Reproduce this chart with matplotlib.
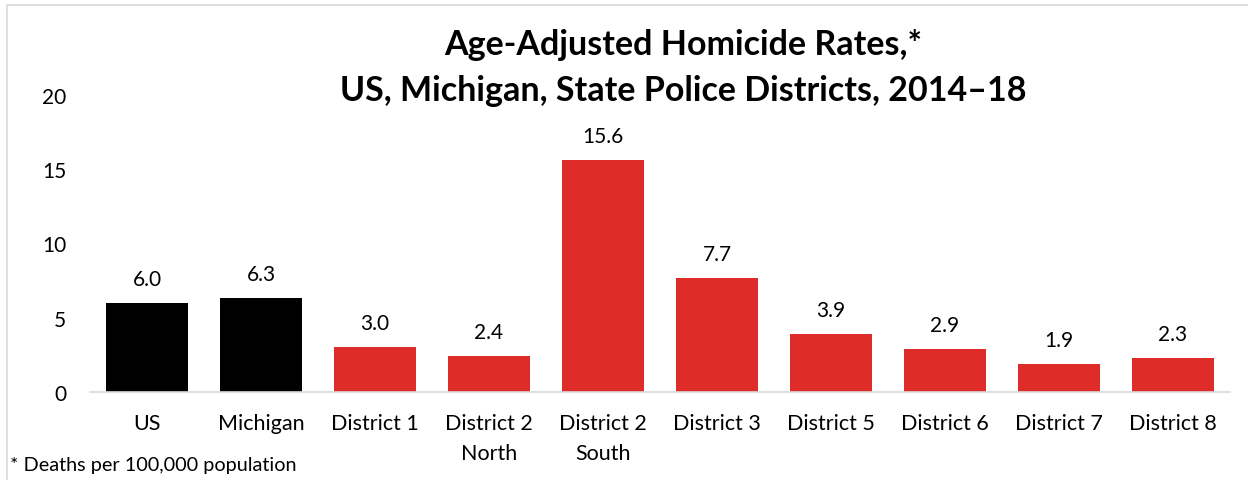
import matplotlib.pyplot as plt
from matplotlib.patches import Rectangle

plt.rcParams["font.family"] = ["Lato", "DejaVu Sans"]

categories = ["US", "Michigan", "District 1", "District 2\nNorth", "District 2\nSouth",
              "District 3", "District 5", "District 6", "District 7", "District 8"]
rates = [6.0, 6.3, 3.0, 2.4, 15.6, 7.7, 3.9, 2.9, 1.9, 2.3]
bar_colors = ["black", "black"] + ["#de2d29"] * 8
y_ticks = [0, 5, 10, 15, 20]

W, H = 1248, 481
fig = plt.figure(figsize=(W / 100, H / 100), dpi=100)

# axes placed in pixel terms: x 90..1230, y(0)=393, y(20)=96
x0, x1 = 90, 1230
y_bot, y_top = 393, 96
ax = fig.add_axes([x0 / W, 1 - y_bot / H, (x1 - x0) / W, (y_bot - y_top) / H])

pos = range(len(categories))
bars = ax.bar(pos, rates, width=0.72, color=bar_colors)
for b, v in zip(bars, rates):
    ax.text(b.get_x() + b.get_width() / 2, v + 0.95, f"{v:.1f}",
            ha="center", va="bottom", fontsize=15)

ax.set_xlim(-0.5, len(categories) - 0.5)
ax.set_ylim(0, 20)
ax.set_yticks(y_ticks)
ax.set_xticks(list(pos))
ax.set_xticklabels(categories, fontsize=15.5, linespacing=1.65)
ax.tick_params(axis="y", length=0, labelsize=15, pad=17)
ax.tick_params(axis="x", length=0, pad=15)
for s in ["top", "right", "left"]:
    ax.spines[s].set_visible(False)
ax.spines["bottom"].set_color("#d9d9d9")
ax.spines["bottom"].set_linewidth(1.2)

fig.text(683 / W, 1 - 45 / H, "Age-Adjusted Homicide Rates,*", ha="center", va="center",
         fontsize=24.5, fontweight="bold")
fig.text(683 / W, 1 - 91 / H, "US, Michigan, State Police Districts, 2014\u201318", ha="center",
         va="center", fontsize=24.5, fontweight="bold")
fig.text(10 / W, 1 - 466 / H, "* Deaths per 100,000 population", ha="left", va="center",
         fontsize=14.3)

# light frame around chart
fig.patches.append(Rectangle((7 / W, -0.1), 1.2, 1 - 6 / H + 0.1, transform=fig.transFigure,
                             fill=False, edgecolor="#d9d9d9", linewidth=1.2))

fig.savefig("out.png", dpi=100)
